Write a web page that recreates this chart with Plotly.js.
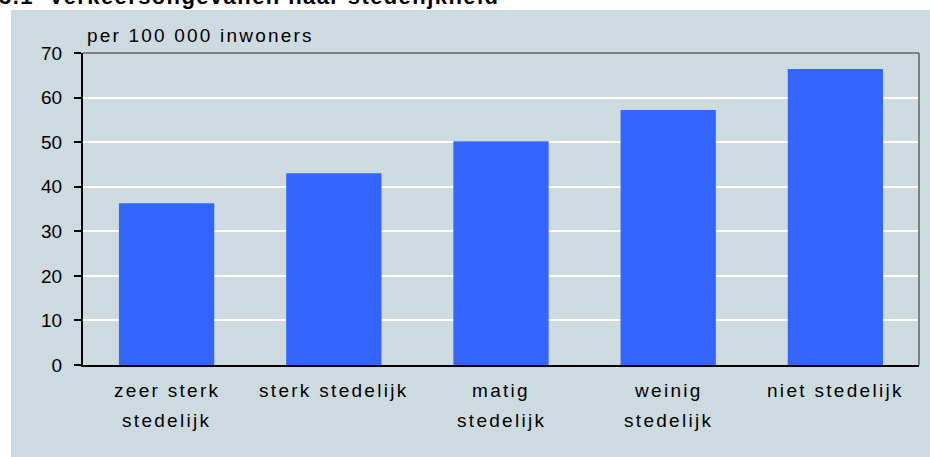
<!DOCTYPE html>
<html>
<head>
<meta charset="utf-8">
<script src="https://cdn.plot.ly/plotly-3.0.1.min.js"></script>
<style>
html,body{margin:0;padding:0;background:#ffffff;}
#chart{width:930px;height:457px;}
</style>
</head>
<body>
<div id="chart"></div>
<script>
var categories = ["zeer sterk stedelijk", "sterk stedelijk", "matig stedelijk", "weinig stedelijk", "niet stedelijk"];
var labelLines = [["zeer sterk", "stedelijk"], ["sterk stedelijk"], ["matig", "stedelijk"], ["weinig", "stedelijk"], ["niet stedelijk"]];
var values = [36.3, 43.0, 50.2, 57.2, 66.4];
var yTicks = [0, 10, 20, 30, 40, 50, 60, 70];
var titleText = "3.1  Verkeersongevallen naar stedelijkheid";
var unitText = "per 100 000 inwoners";

var W = 930, H = 457;
var m = {l: 83, r: 11, t: 53, b: 92};
var pw = W - m.l - m.r, ph = H - m.t - m.b;
function px(x){ return (x - m.l) / pw; }
function py(y){ return (H - m.b - y) / ph; }
function spaced(t, s){ return '<span style="letter-spacing:' + s + 'px">' + t + '</span>'; }

var fam = "Liberation Sans, Arial, sans-serif";

var trace = {
  type: "bar",
  x: categories,
  y: values,
  marker: {color: "#3366FF", line: {width: 0}},
  hoverinfo: "x+y"
};

var annotations = [
  {text: spaced(unitText, 2.2), xref: "paper", yref: "paper", x: px(85), y: py(48),
   xanchor: "left", yanchor: "bottom", showarrow: false,
   font: {family: fam, size: 19, color: "#000"}},
  {text: "<b>" + spaced(titleText, 1.4) + "</b>", xref: "paper", yref: "paper", x: px(-3), y: py(11),
   xanchor: "left", yanchor: "bottom", showarrow: false,
   font: {family: fam, size: 22, color: "#000"}}
];
var lineY = [390, 420];
categories.forEach(function(c, i){
  labelLines[i].forEach(function(t, j){
    annotations.push({text: spaced(t, 2.3), xref: "x", yref: "paper", x: c, y: py(lineY[j]),
      xanchor: "center", yanchor: "middle", showarrow: false,
      font: {family: fam, size: 19, color: "#000"}});
  });
});

var layout = {
  width: W, height: H,
  margin: m,
  paper_bgcolor: "#ffffff",
  plot_bgcolor: "rgba(0,0,0,0)",
  showlegend: false,
  bargap: 0.43,
  font: {family: fam, size: 19, color: "#000"},
  xaxis: {
    type: "category",
    showgrid: false,
    showline: true, linecolor: "#000000", linewidth: 2,
    ticks: "", showticklabels: false,
    fixedrange: true
  },
  yaxis: {
    range: [0, 70],
    tickvals: yTicks,
    ticktext: yTicks.map(String),
    showgrid: true, gridcolor: "#ffffff", gridwidth: 2,
    zeroline: false,
    showline: true, linecolor: "#000000", linewidth: 2,
    ticks: "outside", ticklen: 7, tickwidth: 2, tickcolor: "#000000",
    ticklabelstandoff: 8,
    tickfont: {family: fam, size: 19, color: "#000"},
    fixedrange: true
  },
  shapes: [
    {type: "rect", xref: "paper", yref: "paper", layer: "below",
     x0: px(11), x1: px(940), y0: py(470), y1: py(10),
     fillcolor: "#CDDBE0", line: {width: 0}},
    {type: "line", xref: "paper", yref: "paper",
     x0: 0, x1: 1, y0: 1, y1: 1, line: {color: "#808080", width: 2}},
    {type: "line", xref: "paper", yref: "paper",
     x0: 1, x1: 1, y0: 0, y1: 1, line: {color: "#808080", width: 2}}
  ],
  annotations: annotations
};

Plotly.newPlot("chart", [trace], layout, {displayModeBar: false, staticPlot: true});
</script>
</body>
</html>
